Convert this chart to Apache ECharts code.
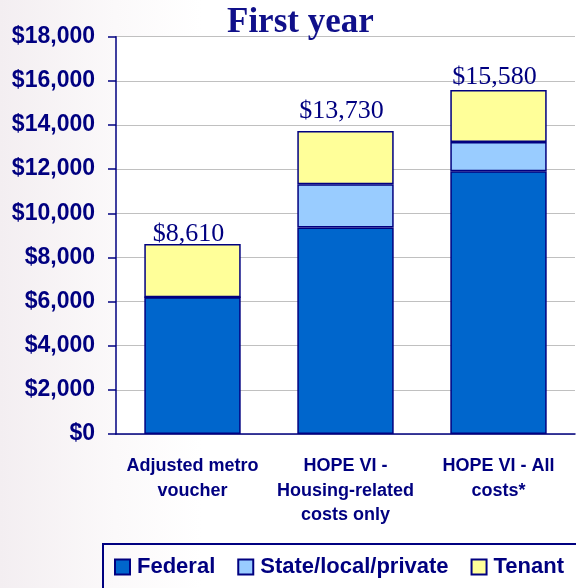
<!DOCTYPE html>
<html>
<head>
<meta charset="utf-8">
<script src="https://cdn.jsdelivr.net/npm/echarts@6/dist/echarts.min.js"></script>
<style>
html,body{margin:0;padding:0;background:#fff;}
#chart{width:576px;height:588px;}
</style>
</head>
<body>
<div id="chart"></div>
<script>
var categories = ["Adjusted metro\nvoucher", "HOPE VI -\nHousing-related\ncosts only", "HOPE VI - All\ncosts*"];
var federal = [6190, 9350, 11900];
var stateLocal = [0, 1970, 1330];
var tenant = [2420, 2410, 2350];
var totals = [8610, 13730, 15580];
var yTicks = [0, 2000, 4000, 6000, 8000, 10000, 12000, 14000, 16000, 18000];

var NAVY = '#000080';
var fmt = function (v) { return '$' + Number(v).toLocaleString('en-US'); };
var labelDistances = [-3, 7, 0];

var chart = echarts.init(document.getElementById('chart'), null, {renderer: 'canvas'});
var borderStyle = {borderColor: NAVY, borderWidth: 1.5};

chart.setOption({
  animation: false,
  backgroundColor: {
    type: 'linear', x: 0, y: 0, x2: 1, y2: 0,
    colorStops: [{offset: 0, color: '#f3eef1'}, {offset: 0.2, color: '#fbf9fa'}, {offset: 0.35, color: '#ffffff'}, {offset: 1, color: '#ffffff'}]
  },
  title: {
    text: 'First year',
    left: 222, top: 0,
    textStyle: {fontFamily: '"Liberation Serif", "Times New Roman", serif', fontSize: 35, fontWeight: 'bold', color: '#10108a'}
  },
  legend: {
    left: 103, top: 544, width: 480,
    padding: [11, 30, 30, 11],
    borderColor: NAVY, borderWidth: 2,
    itemWidth: 15, itemHeight: 15, itemGap: 22,
    icon: 'rect',
    textStyle: {fontFamily: '"Liberation Sans", Arial, sans-serif', fontSize: 22, fontWeight: 'bold', color: NAVY, padding: [0, 0, 0, 2], lineHeight: 24},
    data: ['Federal', 'State/local/private', 'Tenant']
  },
  grid: {left: 116, right: 1, top: 36.7, bottom: 154, show: true, backgroundColor: '#ffffff', borderWidth: 0},
  xAxis: {
    type: 'category',
    data: categories,
    axisLine: {lineStyle: {color: NAVY, width: 1.5}},
    axisTick: {length: 6, lineStyle: {color: NAVY, width: 1.5}},
    axisLabel: {
      margin: 20, interval: 0,
      fontFamily: '"Liberation Sans", Arial, sans-serif', fontSize: 18, fontWeight: 'bold', color: NAVY, lineHeight: 24.5
    }
  },
  yAxis: {
    type: 'value',
    min: yTicks[0], max: yTicks[yTicks.length - 1], interval: 2000,
    axisLine: {show: true, lineStyle: {color: NAVY, width: 1.5}},
    axisTick: {show: true, inside: false, length: 8, lineStyle: {color: NAVY, width: 1.5}},
    splitLine: {lineStyle: {color: '#c0c0c0', width: 1.2}},
    axisLabel: {
      margin: 21, formatter: fmt,
      fontFamily: '"Liberation Sans", Arial, sans-serif', fontSize: 23, fontWeight: 'bold', color: NAVY
    }
  },
  series: [
    {name: 'Federal', type: 'bar', stack: 's', barWidth: '63%', data: federal,
     itemStyle: Object.assign({color: '#0066cc'}, borderStyle)},
    {name: 'State/local/private', type: 'bar', stack: 's', data: stateLocal,
     itemStyle: Object.assign({color: '#99ccff'}, borderStyle)},
    {name: 'Tenant', type: 'bar', stack: 's',
     data: tenant.map(function (v, i) {
       return {value: v, label: {distance: labelDistances[i]}};
     }),
     itemStyle: Object.assign({color: '#ffff99'}, borderStyle),
     label: {
       show: true, position: 'top', offset: [-4, 0],
       formatter: function (p) { return fmt(totals[p.dataIndex]); },
       fontFamily: '"Liberation Serif", "Times New Roman", serif', fontSize: 26, color: NAVY
     }}
  ]
});
</script>
</body>
</html>
